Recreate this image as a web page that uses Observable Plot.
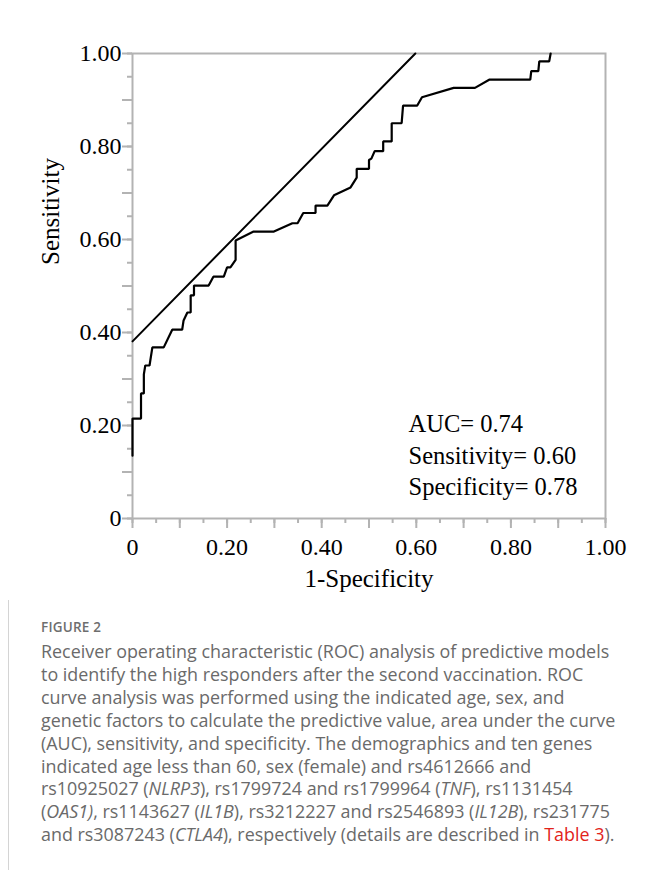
<!DOCTYPE html>
<html>
<head>
<meta charset="utf-8">
<script src="https://cdn.jsdelivr.net/npm/d3@7"></script>
<script src="https://cdn.jsdelivr.net/npm/@observablehq/plot@0.6"></script>
<style>
  html, body { margin: 0; padding: 0; background: #fff; }
  body { width: 648px; height: 870px; overflow: hidden; position: relative; }
  #card { position: absolute; left: 8px; top: 11px; width: 720px; height: 900px;
          border-left: 1px solid #d4d4d4; border-top: 1px solid #d4d4d4; }
  #chart { position: absolute; left: 0; top: 0; }
  #figlabel { position: absolute; left: 41px; top: 618px; font-family: "Open Sans", sans-serif;
              font-weight: 600; font-size: 13.5px; color: #6e6e6e; letter-spacing: 0.2px; }
  #caption { position: absolute; left: 41px; top: 640px; font-family: "Open Sans", sans-serif;
             font-size: 17.9px; line-height: 22.9px; color: #6a6a6a; white-space: nowrap; }
  #caption .ref { color: #e2231a; }
</style>
</head>
<body>
<div id="card"></div>
<div id="chart"></div>
<div id="figlabel">FIGURE 2</div>
<div id="caption">
Receiver operating characteristic (ROC) analysis of predictive models<br>
to identify the high responders after the second vaccination. ROC<br>
curve analysis was performed using the indicated age, sex, and<br>
genetic factors to calculate the predictive value, area under the curve<br>
(AUC), sensitivity, and specificity. The demographics and ten genes<br>
indicated age less than 60, sex (female) and rs4612666 and<br>
rs10925027 (<i>NLRP3</i>), rs1799724 and rs1799964 (<i>TNF</i>), rs1131454<br>
(<i>OAS1)</i>, rs1143627 (<i>IL1B</i>), rs3212227 and rs2546893 (<i>IL12B</i>), rs231775<br>
and rs3087243 (<i>CTLA4</i>), respectively (details are described in <span class="ref">Table 3</span>).
</div>
<script>
// ROC curve points (1-Specificity, Sensitivity)
const fpr = [0, 0, 0.018, 0.018, 0.024, 0.024, 0.027, 0.036, 0.042, 0.066,
  0.084, 0.105, 0.108, 0.116, 0.123, 0.123, 0.130, 0.130, 0.161, 0.171,
  0.193, 0.200, 0.207, 0.218, 0.218, 0.256, 0.299, 0.338, 0.349, 0.361,
  0.387, 0.387, 0.412, 0.426, 0.461, 0.474, 0.474, 0.500, 0.500, 0.505,
  0.512, 0.530, 0.530, 0.548, 0.548, 0.569, 0.572, 0.602, 0.612, 0.679,
  0.724, 0.755, 0.841, 0.843, 0.858, 0.860, 0.881, 0.884];
const tpr = [0.135, 0.215, 0.215, 0.269, 0.269, 0.310, 0.329, 0.329, 0.368, 0.368,
  0.406, 0.406, 0.426, 0.443, 0.443, 0.480, 0.480, 0.501, 0.501, 0.520,
  0.520, 0.540, 0.540, 0.556, 0.598, 0.617, 0.617, 0.635, 0.635, 0.657,
  0.657, 0.673, 0.673, 0.695, 0.712, 0.733, 0.752, 0.752, 0.771, 0.774,
  0.790, 0.790, 0.811, 0.811, 0.850, 0.850, 0.888, 0.888, 0.906, 0.926,
  0.926, 0.944, 0.944, 0.962, 0.962, 0.983, 0.983, 1.000];
// tangent / cut-off line
const lineX = [0, 0.598];
const lineY = [0.381, 1.0];
// tick labels
const tickValues = [0, 0.2, 0.4, 0.6, 0.8, 1.0];
const xTickLabels = ["0", "0.20", "0.40", "0.60", "0.80", "1.00"];
const yTickLabels = ["0", "0.20", "0.40", "0.60", "0.80", "1.00"];
const annotation = ["AUC= 0.74", "Sensitivity= 0.60", "Specificity= 0.78"];
const xTitle = "1-Specificity";
const yTitle = "Sensitivity";

const roc = fpr.map((x, i) => ({x, y: tpr[i]}));
const cut = lineX.map((x, i) => ({x, y: lineY[i]}));
const minorTicks = d3.range(0, 1.0001, 0.05);
const majorTicks = d3.range(0, 1.0001, 0.1);
const gray = "#b3b3b3";
const serif = "'Liberation Serif', 'Times New Roman', serif";

const chart = Plot.plot({
  width: 648, height: 600,
  marginLeft: 132, marginRight: 43, marginTop: 53, marginBottom: 82,
  x: {domain: [0, 1]},
  y: {domain: [0, 1]},
  style: {fontFamily: serif, fontSize: "24px", color: "black", background: "white", overflow: "visible"},
  marks: [
    Plot.axisX({ticks: minorTicks, tickSize: 5, stroke: gray, strokeWidth: 2, tickFormat: () => "", label: null}),
    Plot.axisX({ticks: majorTicks, tickSize: 10, stroke: gray, strokeWidth: 2, tickFormat: () => "", label: null}),
    Plot.axisY({ticks: minorTicks, tickSize: 5, stroke: gray, strokeWidth: 2, tickFormat: () => "", label: null}),
    Plot.axisY({ticks: majorTicks, tickSize: 10, stroke: gray, strokeWidth: 2, tickFormat: () => "", label: null}),
    Plot.text(tickValues, {x: (d) => d, text: (d, i) => xTickLabels[i], frameAnchor: "bottom", dy: 29,
      lineAnchor: "middle", fontSize: 24, fontFamily: serif, fill: "black"}),
    Plot.text(tickValues, {y: (d) => d, text: (d, i) => yTickLabels[i], frameAnchor: "left", dx: -11,
      textAnchor: "end", lineAnchor: "middle", fontSize: 24, fontFamily: serif, fill: "black"}),
    Plot.frame({stroke: gray, strokeWidth: 2}),
    Plot.text([xTitle], {frameAnchor: "bottom", dy: 60, lineAnchor: "middle", fontSize: 25, fontFamily: serif, fill: "black"}),
    Plot.text([yTitle], {frameAnchor: "left", dx: -82, dy: -21, rotate: -90, lineAnchor: "middle", fontSize: 25, fontFamily: serif, fill: "black"}),
    Plot.line(cut, {x: "x", y: "y", stroke: "black", strokeWidth: 2}),
    Plot.line(roc, {x: "x", y: "y", stroke: "black", strokeWidth: 2.2, strokeLinejoin: "miter"}),
    Plot.text([annotation.join("\n")], {frameAnchor: "bottom-left", dx: 276, dy: -65, lineAnchor: "middle",
      textAnchor: "start", lineHeight: 1.29, fontSize: 24.5, fontFamily: serif, fill: "black"})
  ]
});
document.getElementById("chart").appendChild(chart);
</script>
</body>
</html>
